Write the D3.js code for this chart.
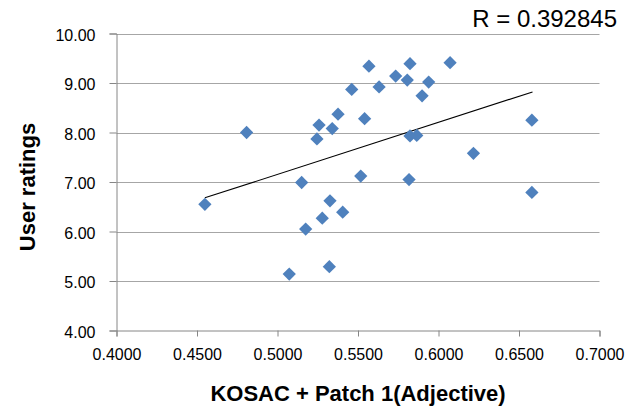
<!DOCTYPE html>
<html><head><meta charset="utf-8">
<script src="https://cdn.jsdelivr.net/npm/d3@7"></script>
<style>
body{margin:0;background:#fff;}
text{font-family:"Liberation Sans",Arial,sans-serif;}
</style></head>
<body><svg id="c" width="637" height="409"></svg>
<script>
const xValues = [0.4808,0.5461,0.5376,0.5258,0.5340,0.5245,0.5541,0.5568,0.5631,0.5734,0.5823,0.5806,0.5939,0.6072,0.5898,0.5823,0.5865,0.6580,0.6217,0.5517,0.5817,0.4549,0.5150,0.5326,0.5278,0.5405,0.5175,0.5073,0.5322,0.6580];
const yValues = [8.00,8.87,8.37,8.15,8.08,7.87,8.28,9.34,8.92,9.14,9.39,9.06,9.02,9.41,8.74,7.93,7.94,8.25,7.58,7.12,7.05,6.55,6.99,6.62,6.27,6.39,6.05,5.14,5.29,6.79];
const trendX = [0.4549,0.6584];
const trendY = [6.68,8.82];
const xTicks = [0.40,0.45,0.50,0.55,0.60,0.65,0.70];
const yTicks = [4,5,6,7,8,9,10];
const rLabel = "R = 0.392845";
const xTitle = "KOSAC + Patch 1(Adjective)";
const yTitle = "User ratings";

const svg = d3.select("#c");
const L=116.5, R=599.5, T=33.5, B=330.5;
const x = d3.scaleLinear().domain([0.4,0.7]).range([L,R]);
const y = d3.scaleLinear().domain([4,10]).range([B,T]);

// gridlines
svg.append("g").selectAll("line").data(yTicks.filter(d=>d>4)).join("line")
  .attr("x1",L).attr("x2",R).attr("y1",d=>Math.round(y(d))+0.5).attr("y2",d=>Math.round(y(d))+0.5)
  .attr("stroke","#A6A6A6").attr("stroke-width",1);

// y axis
const ya = svg.append("g").attr("transform",`translate(${L},0)`)
  .call(d3.axisLeft(y).tickValues(yTicks).tickFormat(d3.format(".2f")).tickSize(7).tickPadding(14));
ya.select(".domain").attr("stroke","#868686");
ya.selectAll(".tick line").attr("stroke","#868686");
ya.selectAll(".tick text").attr("font-size","16px").attr("fill","#000").attr("font-family","Liberation Sans, Arial, sans-serif").attr("dy","0.42em");

// x axis
const xa = svg.append("g").attr("transform",`translate(0,${B})`)
  .call(d3.axisBottom(x).tickValues(xTicks).tickFormat(d3.format(".4f")).tickSize(6).tickPadding(12));
xa.select(".domain").attr("stroke","#868686");
xa.selectAll(".tick line").attr("stroke","#868686");
xa.selectAll(".tick text").attr("font-size","16px").attr("fill","#000").attr("font-family","Liberation Sans, Arial, sans-serif");

// trend line
svg.append("line")
  .attr("x1",x(trendX[0])).attr("y1",y(trendY[0]))
  .attr("x2",x(trendX[1])).attr("y2",y(trendY[1]))
  .attr("stroke","#000").attr("stroke-width",1.1);

// points
const pts = xValues.map((v,i)=>({x:v,y:yValues[i]}));
const sym = d3.symbol().type(d3.symbolSquare).size(88);
svg.append("g").selectAll("path").data(pts).join("path")
  .attr("d",sym)
  .attr("transform",d=>`translate(${x(d.x)},${y(d.y)}) rotate(45)`)
  .attr("fill","#4F81BD");

// texts
svg.append("text").attr("x",617).attr("y",27).attr("text-anchor","end")
  .attr("font-size","24px").attr("fill","#000").text(rLabel);
svg.append("text").attr("x",358).attr("y",401).attr("text-anchor","middle")
  .attr("font-size","22px").attr("font-weight","bold").attr("fill","#000").text(xTitle);
svg.append("text").attr("transform","translate(35,187) rotate(-90)").attr("text-anchor","middle")
  .attr("font-size","22px").attr("font-weight","bold").attr("fill","#000").text(yTitle);
</script></body></html>
